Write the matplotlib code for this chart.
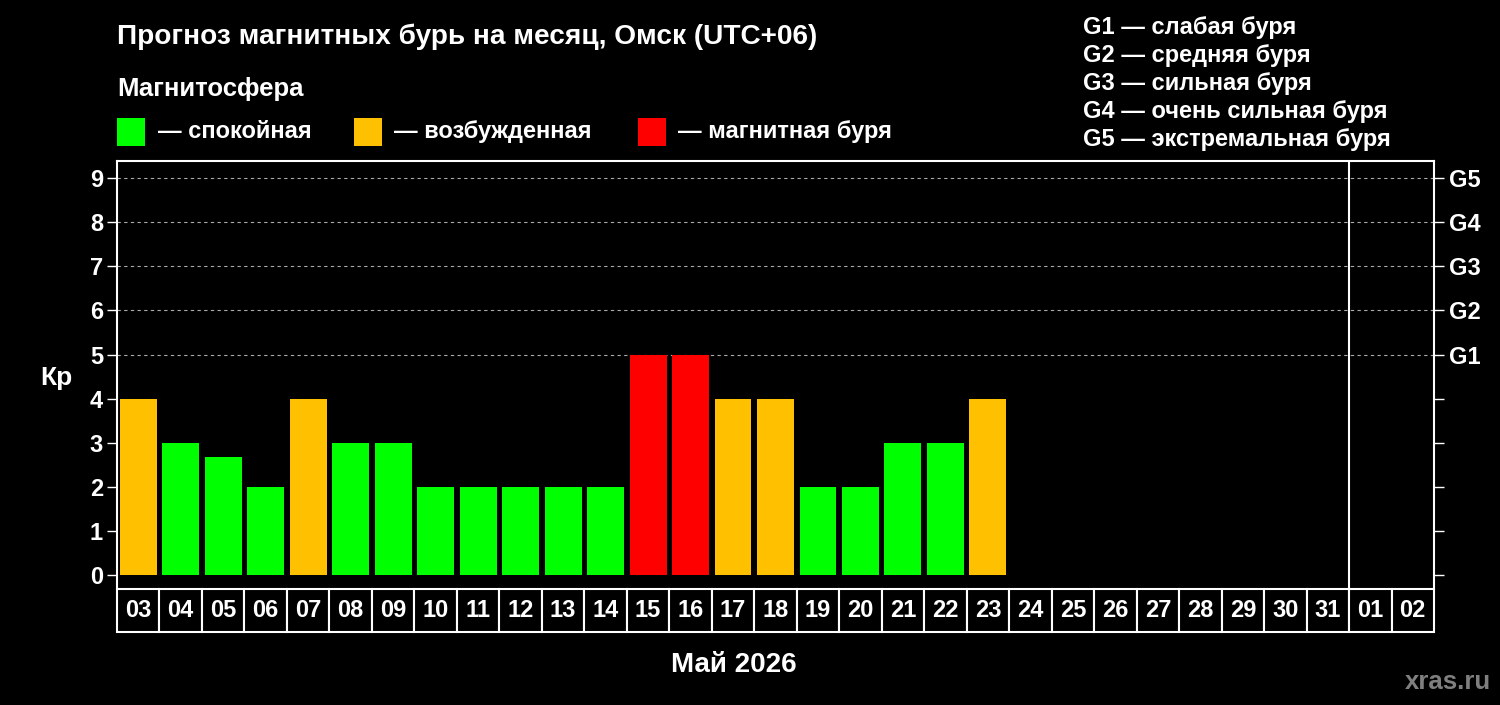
import matplotlib
matplotlib.use("Agg")
import matplotlib.pyplot as plt
from matplotlib.patches import Rectangle
from matplotlib.transforms import blended_transform_factory

days = ["03", "04", "05", "06", "07", "08", "09", "10", "11", "12", "13", "14",
        "15", "16", "17", "18", "19", "20", "21", "22", "23", "24", "25", "26",
        "27", "28", "29", "30", "31", "01", "02"]
kp = [4, 3, 2.67, 2, 4, 3, 3, 2, 2, 2, 2, 2, 5, 5, 4, 4, 2, 2, 3, 3, 4]
g_labels = ["G1", "G2", "G3", "G4", "G5"]
g_names = ["слабая буря", "средняя буря", "сильная буря", "очень сильная буря", "экстремальная буря"]
state_names = ["спокойная", "возбужденная", "магнитная буря"]

GREEN, ORANGE, RED = "#00ff00", "#ffc000", "#ff0000"
NARROW = ["Liberation Sans Narrow", "Liberation Sans", "DejaVu Sans"]
plt.rcParams["font.family"] = ["Liberation Sans", "DejaVu Sans"]
plt.rcParams["font.weight"] = "bold"


def kp_color(v):
    if v >= 5:
        return RED
    if v >= 4:
        return ORANGE
    return GREEN


fig = plt.figure(figsize=(15, 7.05), dpi=100, facecolor="black")
ax = fig.add_axes([0.078, 0.1645, 0.878, 0.607], facecolor="black")

x = list(range(len(kp)))
ax.bar(x, kp, width=0.87, color=[kp_color(v) for v in kp], zorder=3)

ax.set_xlim(-0.5, len(days) - 0.5)
ax.set_ylim(-0.32, 9.39)
for lvl in range(5, 10):
    ax.axhline(lvl, color="#aaaaaa", lw=0.8, ls=(0, (3, 3)), zorder=1)
ax.axvline(days.index("01") - 0.5, color="white", lw=1.5, zorder=2)

for s in ax.spines.values():
    s.set_color("white")
    s.set_linewidth(1.5)
ax.spines["bottom"].set_visible(False)

ax.set_xticks([])
ax.set_yticks(range(10))
ax.tick_params(axis="y", colors="white", labelsize=17, length=7, width=1, pad=3)
for t in ax.get_yticklabels():
    t.set_fontweight("bold")

ax2 = ax.twinx()
ax2.set_ylim(ax.get_ylim())
ax2.set_yticks(range(10))
ax2.set_yticklabels([""] * 5 + g_labels)
ax2.tick_params(axis="y", colors="white", labelsize=17, length=7, width=1, pad=4)
for t in ax2.get_yticklabels():
    t.set_fontweight("bold")
for s in ax2.spines.values():
    s.set_visible(False)

# day boxes under the plot
trans = blended_transform_factory(ax.transData, ax.transAxes)
for i, d in enumerate(days):
    ax.add_patch(Rectangle((i - 0.5, -0.1005), 1, 0.1005, transform=trans,
                           facecolor="black", edgecolor="white", lw=1.5, clip_on=False))
    ax.text(i, -0.05, d, transform=trans, color="white", fontsize=17,
            fontweight="bold", ha="center", va="center")

ax.text(-0.046, 0.493, "Кр", transform=ax.transAxes, color="white", fontsize=19,
        fontweight="bold", ha="center", va="center")

fig.text(0.489, 0.057, "Май 2026", color="white", fontsize=20, fontweight="bold",
         ha="center", va="center")
fig.text(0.994, 0.032, "xras.ru", color="#7f7f7f", fontsize=18.5, fontweight="bold",
         ha="right", va="center")

# title and state legend
fig.text(0.078, 0.948, "Прогноз магнитных бурь на месяц, Омск (UTC+06)", color="white",
         fontsize=20.2, fontweight="bold", family=NARROW, ha="left", va="center")
fig.text(0.078, 0.874, "Магнитосфера", color="white", fontsize=18.5, fontweight="bold",
         family=NARROW, ha="left", va="center")
sq_x = [0.078, 0.236, 0.425]
for sx, col, name in zip(sq_x, [GREEN, ORANGE, RED], state_names):
    fig.patches.append(Rectangle((sx, 0.793), 0.0187, 0.04, transform=fig.transFigure,
                                 facecolor=col, edgecolor="none"))
    fig.text(sx + 0.027, 0.813, "— " + name, color="white", fontsize=17,
             fontweight="bold", family=NARROW, ha="left", va="center")

# G scale legend
for k, (g, n) in enumerate(zip(g_labels, g_names)):
    fig.text(0.722, 0.961 - k * 0.0397, g + " — " + n, color="white", fontsize=17,
             fontweight="bold", ha="left", va="center")

fig.savefig("out.png", dpi=100, facecolor="black")
